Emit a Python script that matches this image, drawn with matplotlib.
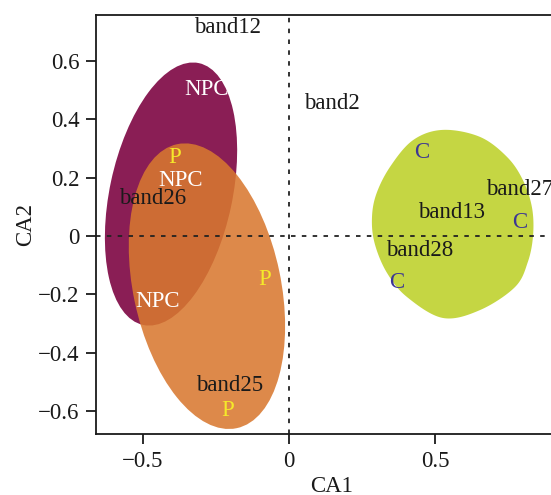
import numpy as np
import matplotlib
matplotlib.use("Agg")
import matplotlib.pyplot as plt
from matplotlib import font_manager
from matplotlib.patches import Ellipse, Polygon

# ---------------- data ----------------
site_labels = ["NPC", "P", "NPC", "P", "NPC", "P", "C", "C", "C"]
site_x = [-0.281, -0.390, -0.373, -0.082, -0.449, -0.209, 0.455, 0.791, 0.370]
site_y = [0.504, 0.268, 0.192, -0.148, -0.223, -0.600, 0.285, 0.045, -0.161]

band_labels = ["band12", "band2", "band26", "band25", "band27", "band13", "band28"]
band_x = [-0.212, 0.147, -0.466, -0.202, 0.791, 0.555, 0.449]
band_y = [0.714, 0.453, 0.130, -0.511, 0.161, 0.082, -0.051]

ell_groups = ["NPC", "P"]
ell_cx = [-0.404, -0.281]
ell_cy = [0.144, -0.172]
ell_w = [0.918, 0.995]
ell_h = [0.420, 0.506]
ell_ang = [78.0, 101.8]

c_hull_x = [0.527, 0.654, 0.747, 0.801, 0.832, 0.836, 0.818, 0.774, 0.654,
            0.527, 0.404, 0.336, 0.295, 0.284, 0.298, 0.346, 0.425]
c_hull_y = [0.364, 0.340, 0.271, 0.192, 0.099, 0.003, -0.089, -0.175, -0.254,
            -0.281, -0.209, -0.127, -0.031, 0.055, 0.141, 0.237, 0.329]

x_ticks = [-0.5, 0, 0.5]
x_ticklabels = ["\u22120.5", "0", "0.5"]
y_ticks = [-0.6, -0.4, -0.2, 0, 0.2, 0.4, 0.6]
y_ticklabels = ["\u22120.6", "\u22120.4", "\u22120.2", "0", "0.2", "0.4", "0.6"]

# ---------------- style ----------------
fill_colors = {"NPC": "#8a1e55", "P": "#d8782f", "C": "#c5d643"}
fill_alpha = {"NPC": 1.0, "P": 0.87, "C": 1.0}
text_colors = {"NPC": "white", "P": "#f5e92a", "C": "#3c3694"}

serif_name = None
for f in font_manager.fontManager.ttflist:
    if "liberation" in f.name.lower() and "serif" in f.name.lower():
        serif_name = f.name
        break
fams = [serif_name] if serif_name else []
plt.rcParams["font.family"] = fams + ["DejaVu Serif"]

fig = plt.figure(figsize=(5.51, 4.95), dpi=100)
ax = fig.add_axes([0.1742, 0.1232, 0.8537, 0.8465])
ax.set_xlim(-0.661, 0.95)
ax.set_ylim(-0.679, 0.758)


def catmull_rom_closed(xs, ys, n=20):
    pts = np.column_stack([xs, ys])
    m = len(pts)
    out = []
    for i in range(m):
        p0, p1, p2, p3 = pts[(i - 1) % m], pts[i], pts[(i + 1) % m], pts[(i + 2) % m]
        t = np.linspace(0, 1, n, endpoint=False)[:, None]
        seg = 0.5 * ((2 * p1) + (-p0 + p2) * t + (2 * p0 - 5 * p1 + 4 * p2 - p3) * t ** 2
                     + (-p0 + 3 * p1 - 3 * p2 + p3) * t ** 3)
        out.append(seg)
    return np.vstack(out)


for g, cx, cy, w, h, a in zip(ell_groups, ell_cx, ell_cy, ell_w, ell_h, ell_ang):
    ax.add_patch(Ellipse((cx, cy), w, h, angle=a, facecolor=fill_colors[g],
                         alpha=fill_alpha[g], edgecolor="none", zorder=1))

curve = catmull_rom_closed(c_hull_x, c_hull_y)
ax.add_patch(Polygon(curve, closed=True, facecolor=fill_colors["C"],
                     edgecolor="none", zorder=1))

ax.axhline(0, color="#222222", lw=1.3, ls=(0, (2.5, 3.5)), zorder=2)
ax.axvline(0, color="#222222", lw=1.3, ls=(0, (2.5, 3.5)), zorder=2)

for lab, x, y in zip(band_labels, band_x, band_y):
    ax.text(x, y, lab, ha="center", va="center", fontsize=16.5, color="#1a1a1a", zorder=3)
for lab, x, y in zip(site_labels, site_x, site_y):
    ax.text(x, y, lab, ha="center", va="center", fontsize=16.5, color=text_colors[lab], zorder=3)

ax.set_xticks(x_ticks)
ax.set_xticklabels(x_ticklabels)
ax.set_yticks(y_ticks)
ax.set_yticklabels(y_ticklabels)
ax.tick_params(direction="out", length=7, width=1.3, labelsize=16.5, colors="#1a1a1a", pad=5)
for s in ax.spines.values():
    s.set_linewidth(1.3)
    s.set_color("#1a1a1a")
ax.spines["right"].set_visible(False)

ax.set_xlabel("CA1", fontsize=16.5, color="#1a1a1a", labelpad=3)
ax.set_ylabel("CA2", fontsize=16.5, color="#1a1a1a", labelpad=1.5)

fig.savefig("out.png", dpi=100)
